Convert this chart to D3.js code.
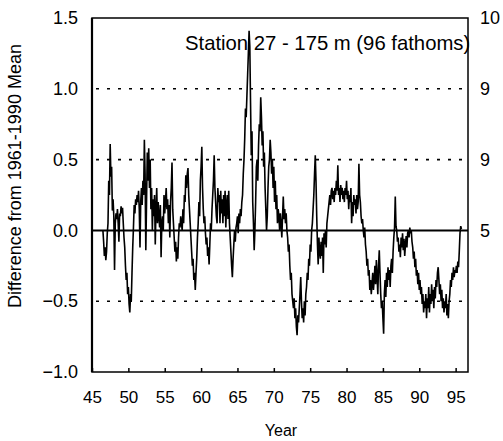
<!DOCTYPE html>
<html><head><meta charset="utf-8">
<script src="https://cdn.jsdelivr.net/npm/d3@7"></script>
<style>
body{margin:0;background:#fff}
svg{display:block}
text{font-family:"Liberation Sans",Arial,Helvetica,sans-serif;fill:#000}
</style>
</head><body>
<svg id="chart" width="503" height="441"></svg>
<script>
// ---- data ----
const firstYear = 46.5;      // first sample (year 1946.5)
const sampleStep = 0.1;      // sampling interval in years
const anomaly = [
  0.00,-0.08,-0.18,-0.12,-0.21,
  -0.15,-0.02,0.05,0.35,0.25,0.61,0.38,0.45,0.14,0.22,
  0.10,-0.28,0.05,0.12,0.08,0.15,0.05,-0.08,0.12,0.10,
  0.17,0.12,0.16,0.05,-0.05,-0.12,-0.25,-0.35,-0.30,-0.45,
  -0.40,-0.52,-0.58,-0.45,-0.50,-0.30,-0.12,0.02,0.18,0.12,
  0.22,0.18,0.25,0.20,0.28,0.15,-0.12,0.20,0.30,0.18,
  0.35,0.25,0.64,0.40,-0.14,0.20,0.55,0.35,0.58,0.30,
  0.50,0.15,0.30,0.00,0.22,0.10,0.25,-0.10,0.15,0.30,
  0.05,0.20,0.10,0.02,0.18,-0.19,0.05,0.10,0.00,0.25,
  0.12,0.20,0.30,0.15,0.22,0.05,0.18,-0.05,0.20,0.30,
  0.48,0.15,0.05,-0.05,-0.15,-0.08,-0.22,-0.12,-0.20,-0.05,
  0.05,0.02,0.10,0.05,0.00,0.15,0.05,0.25,0.20,0.39,
  0.30,0.40,0.44,0.25,0.15,0.05,-0.05,-0.15,-0.25,-0.20,
  -0.35,-0.30,-0.42,-0.30,-0.20,-0.05,0.05,0.20,0.10,0.35,
  0.45,0.59,0.30,0.15,0.05,0.10,-0.02,-0.10,-0.05,-0.18,
  -0.12,-0.24,-0.10,0.05,0.00,0.15,0.25,0.35,0.53,0.30,
  0.20,0.10,0.05,0.30,0.20,0.25,0.05,0.28,0.12,0.22,
  0.05,0.25,0.10,0.28,0.02,0.18,0.25,0.08,0.28,0.05,
  -0.05,-0.15,-0.25,-0.33,-0.20,-0.10,0.00,-0.08,0.02,0.05,
  0.10,-0.02,0.12,0.05,0.15,0.10,0.20,0.25,0.40,0.50,
  0.65,0.86,0.80,0.95,1.10,1.25,1.41,1.30,0.90,0.53,
  0.70,0.20,0.05,-0.14,0.00,0.20,0.45,0.50,0.35,0.60,
  0.75,0.70,0.94,0.80,0.60,0.70,0.45,0.55,0.30,0.15,
  0.00,0.10,0.30,0.45,0.50,0.64,0.55,0.40,0.50,0.30,
  0.45,0.20,0.35,0.15,0.25,0.05,0.15,0.10,0.00,0.12,
  0.05,-0.05,0.10,0.24,0.08,0.15,0.05,0.12,0.00,-0.05,
  -0.15,-0.10,-0.25,-0.35,-0.30,-0.45,-0.50,-0.55,-0.48,-0.62,
  -0.55,-0.68,-0.74,-0.60,-0.65,-0.55,-0.45,-0.33,-0.50,-0.62,
  -0.55,-0.65,-0.50,-0.60,-0.45,-0.40,-0.30,-0.35,-0.20,-0.25,
  -0.10,-0.15,0.00,0.05,0.15,0.25,0.40,0.53,0.35,0.10,
  -0.10,-0.24,-0.05,-0.15,-0.20,-0.08,-0.18,-0.05,-0.30,-0.02,
  -0.10,0.00,-0.12,0.05,0.10,0.15,0.20,0.25,0.18,0.28,
  0.30,0.22,0.28,0.20,0.30,0.25,0.35,0.28,0.46,0.25,
  0.30,0.20,0.32,0.25,0.30,0.22,0.28,0.20,0.30,0.25,
  0.35,0.22,0.28,0.15,0.25,0.20,0.30,0.05,0.20,0.10,
  0.25,0.18,0.22,0.12,0.25,0.15,0.20,0.47,0.25,0.20,
  0.10,0.05,0.08,0.00,-0.05,0.02,-0.10,-0.15,-0.25,-0.20,
  -0.32,-0.28,-0.42,-0.35,-0.45,-0.38,-0.30,-0.42,-0.35,-0.25,
  -0.38,-0.21,-0.32,-0.45,-0.25,-0.14,-0.30,-0.45,-0.55,-0.50,
  -0.62,-0.73,-0.45,-0.35,-0.47,-0.30,-0.40,-0.26,-0.35,-0.28,
  -0.40,-0.25,-0.20,-0.30,-0.15,-0.05,0.02,0.24,0.03,0.00,
  -0.08,-0.05,-0.15,-0.10,-0.19,-0.05,-0.12,-0.02,-0.14,-0.06,
  -0.18,-0.10,-0.04,-0.12,-0.02,0.00,-0.05,0.02,-0.02,0.00,
  -0.08,-0.12,-0.20,-0.15,-0.26,-0.20,-0.32,-0.28,-0.38,-0.30,
  -0.42,-0.35,-0.45,-0.40,-0.52,-0.45,-0.58,-0.50,-0.55,-0.45,
  -0.62,-0.48,-0.55,-0.40,-0.58,-0.45,-0.52,-0.38,-0.50,-0.42,
  -0.55,-0.40,-0.48,-0.35,-0.40,-0.30,-0.26,-0.35,-0.45,-0.38,
  -0.50,-0.42,-0.55,-0.48,-0.58,-0.50,-0.55,-0.45,-0.60,-0.52,
  -0.62,-0.50,-0.45,-0.35,-0.40,-0.30,-0.35,-0.26,-0.33,-0.28,
  -0.30,-0.25,-0.30,-0.22,-0.26,-0.15,-0.02,0.03,0.01
];
const xTicks = [45,50,55,60,65,70,75,80,85,90,95];
const yTicks = [1.5,1.0,0.5,0.0,-0.5,-1.0];
const gridLevels = [1.0,0.5,-0.5];
const rightLabels = ["10","9","9","5"];
const rightLabelLevels = [1.5,1.0,0.5,0.0];
const titleText = "Station 27 - 175 m (96 fathoms)";
const xTitle = "Year";
const yTitle = "Difference from 1961-1990 Mean";

// ---- layout ----
const L = 92, R = 468, T = 18, B = 372;
const x = d3.scaleLinear().domain([45, 96.7]).range([L, R]);
const y = d3.scaleLinear().domain([-1.0, 1.5]).range([B, T]);

const svg = d3.select("#chart");

// dotted grid lines
svg.append("g").selectAll("line").data(gridLevels).join("line")
  .attr("x1", L + 4).attr("x2", R - 6)
  .attr("y1", d => y(d)).attr("y2", d => y(d))
  .attr("stroke", "#000").attr("stroke-width", 1.6)
  .attr("stroke-dasharray", "3,8");

// data line
const series = anomaly.map((v, i) => [firstYear + i * sampleStep, v]);
svg.append("path").datum(series)
  .attr("fill", "none").attr("stroke", "#000").attr("stroke-width", 1.6)
  .attr("stroke-linejoin", "miter")
  .attr("d", d3.line().x(d => x(d[0])).y(d => y(d[1])));

// zero line
svg.append("line")
  .attr("x1", L).attr("x2", R).attr("y1", y(0)).attr("y2", y(0))
  .attr("stroke", "#000").attr("stroke-width", 2);

// frame
svg.append("rect").attr("x", L).attr("y", T).attr("width", R - L).attr("height", B - T)
  .attr("fill", "none").attr("stroke", "#000").attr("stroke-width", 1.5);
svg.append("line").attr("x1", L).attr("x2", L).attr("y1", T).attr("y2", B)
  .attr("stroke", "#000").attr("stroke-width", 2.2);

// x axis
const xAxis = svg.append("g").attr("transform", `translate(0,${B})`)
  .call(d3.axisBottom(x).tickValues(xTicks).tickSize(-4).tickPadding(19).tickFormat(d3.format("d")));
xAxis.select(".domain").remove();
xAxis.selectAll(".tick line").attr("stroke", "#000").attr("stroke-width", 1.5);
xAxis.selectAll("text").attr("font-size", 17).attr("font-family", null);

// y axis
const yAxis = svg.append("g").attr("transform", `translate(${L},0)`)
  .call(d3.axisLeft(y).tickValues(yTicks).tickSize(0).tickPadding(14).tickFormat(d3.format(".1f")));
yAxis.select(".domain").remove();
yAxis.selectAll("text").attr("font-size", 18).attr("font-family", null);

// right-side labels (cut-off labels from the scan)
svg.append("g").selectAll("text").data(rightLabels).join("text")
  .attr("x", 480).attr("y", (d, i) => y(rightLabelLevels[i]))
  .attr("dy", "0.35em").attr("font-size", 18).text(d => d);

// title
svg.append("text").attr("x", 185).attr("y", 50).attr("font-size", 20.3).text(titleText);

// axis titles
svg.append("text").attr("x", 281).attr("y", 436).attr("text-anchor", "middle")
  .attr("font-size", 16).text(xTitle);
svg.append("text").attr("transform", "translate(21,176) rotate(-90)")
  .attr("text-anchor", "middle").attr("font-size", 18).text(yTitle);
</script>
</body></html>
